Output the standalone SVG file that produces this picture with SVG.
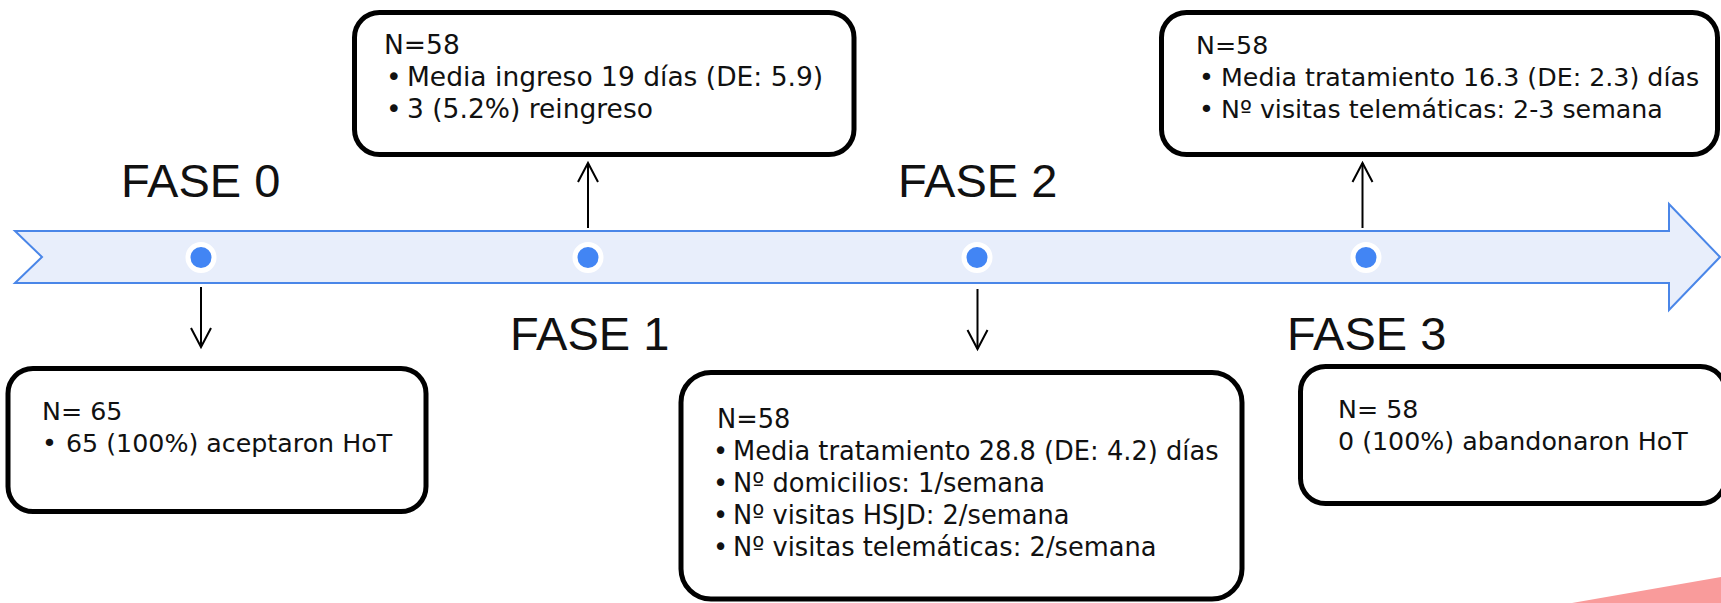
<svg xmlns="http://www.w3.org/2000/svg" width="1721" height="603" viewBox="0 0 1721 603">
<style>
.box{fill:#fff;stroke:#000;stroke-width:5}
.t{font-family:"DejaVu Sans","Noto Sans",sans-serif;font-size:25.3px;fill:#111}
.b1{font-size:26.5px}
.b2{font-size:25.7px}
.fase{font-family:"Liberation Sans",Arial,sans-serif;font-size:47px;fill:#111}
.con{stroke:#000;stroke-width:2;fill:none}
.dot{fill:#4285F4;stroke:#fff;stroke-width:5}
</style>
<defs>
<marker id="ah" markerUnits="userSpaceOnUse" markerWidth="26" markerHeight="26" viewBox="-22 -13 26 26" refX="0" refY="0" orient="auto">
<path d="M-19,-10 L0,0 L-19,10" fill="none" stroke="#000" stroke-width="2"/>
</marker>
</defs>
<rect width="1721" height="603" fill="#fff"/>
<polygon points="1572,603 1721,577 1721,603" fill="#F99B9B"/>
<g id="timeline">
<path d="M15,231 L1669,231 L1669,204 L1720,257 L1669,310 L1669,283 L15,283 L42,257 Z" fill="#E8EEFB" stroke="#4A86E8" stroke-width="2"/>
<circle class="dot" cx="201" cy="257.5" r="13"/>
<circle class="dot" cx="588" cy="257.5" r="13"/>
<circle class="dot" cx="977" cy="257.5" r="13"/>
<circle class="dot" cx="1366" cy="257.5" r="13"/>
</g>
<g id="labels">
<text class="fase" x="121" y="197">FASE 0</text>
<text class="fase" x="510" y="350">FASE 1</text>
<text class="fase" x="898" y="197">FASE 2</text>
<text class="fase" x="1287" y="350">FASE 3</text>
</g>
<g id="connectors">
<line class="con" x1="201" y1="287" x2="201" y2="347" marker-end="url(#ah)"/>
<line class="con" x1="588" y1="228" x2="588" y2="163" marker-end="url(#ah)"/>
<line class="con" x1="977.5" y1="289" x2="977.5" y2="349" marker-end="url(#ah)"/>
<line class="con" x1="1362.5" y1="228" x2="1362.5" y2="163" marker-end="url(#ah)"/>
</g>
<g id="box-fase0">
<rect class="box" x="8" y="368.5" width="418" height="143" rx="25"/>
<text class="t" x="42" y="420">N= 65</text>
<text class="t" y="452"><tspan x="42">•</tspan><tspan x="66">65 (100%) aceptaron HoT</tspan></text>
</g>
<g id="box-fase1">
<rect class="box" x="354.5" y="12.5" width="499.5" height="142" rx="25"/>
<text class="t b1" x="384" y="54">N=58</text>
<text class="t b1" y="86"><tspan x="386">•</tspan><tspan x="407">Media ingreso 19 días (DE: 5.9)</tspan></text>
<text class="t b1" y="118"><tspan x="386">•</tspan><tspan x="407">3 (5.2%) reingreso</tspan></text>
</g>
<g id="box-fase2">
<rect class="box" x="681" y="372.5" width="561" height="226.5" rx="30"/>
<text class="t b2" x="717" y="428">N=58</text>
<text class="t b2" y="460"><tspan x="713">•</tspan><tspan x="733">Media tratamiento 28.8 (DE: 4.2) días</tspan></text>
<text class="t b2" y="492"><tspan x="713">•</tspan><tspan x="733">Nº domicilios: 1/semana</tspan></text>
<text class="t b2" y="524"><tspan x="713">•</tspan><tspan x="733">Nº visitas HSJD: 2/semana</tspan></text>
<text class="t b2" y="556"><tspan x="713">•</tspan><tspan x="733">Nº visitas telemáticas: 2/semana</tspan></text>
</g>
<g id="box-fase3-top">
<rect class="box" x="1161.5" y="12.5" width="556" height="142" rx="25"/>
<text class="t" x="1196" y="54">N=58</text>
<text class="t" y="86"><tspan x="1199">•</tspan><tspan x="1221">Media tratamiento 16.3 (DE: 2.3) días</tspan></text>
<text class="t" y="118"><tspan x="1199">•</tspan><tspan x="1221">Nº visitas telemáticas: 2-3 semana</tspan></text>
</g>
<g id="box-fase3-bottom">
<rect class="box" x="1300.5" y="366.5" width="425" height="137" rx="25"/>
<text class="t" x="1338" y="418">N= 58</text>
<text class="t" x="1338" y="450">0 (100%) abandonaron HoT</text>
</g>
</svg>
